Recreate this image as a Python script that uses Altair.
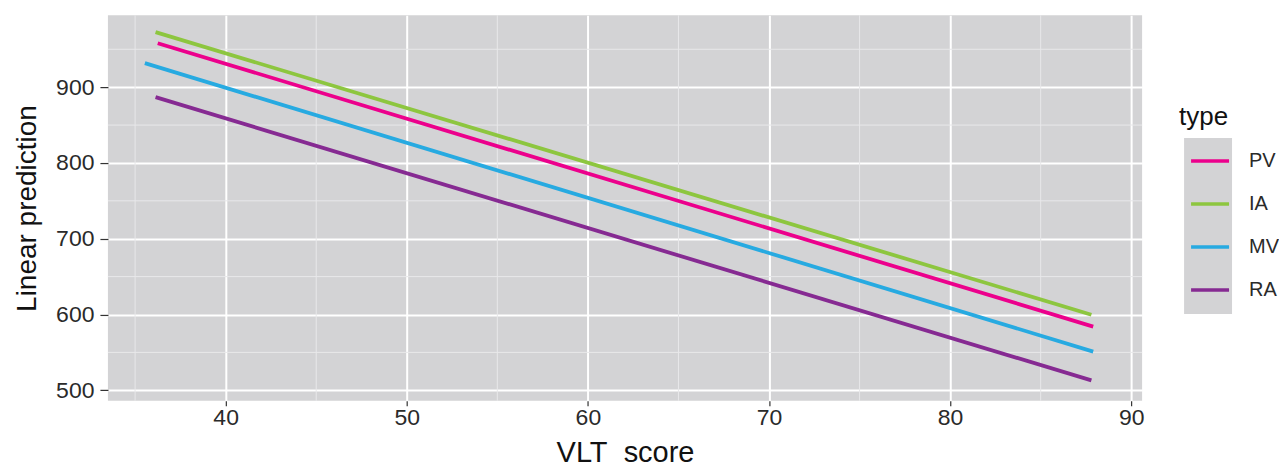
import altair as alt
import pandas as pd

types = ["PV", "IA", "MV", "RA"]
colors = ["#EC008C", "#8DC63F", "#27AAE1", "#862A92"]
x_start = [36.25, 36.13, 35.54, 36.13]
x_end = [87.9, 87.8, 87.9, 87.8]
y_start = [958, 972.6, 931.7, 886.8]
y_end = [584, 599.6, 551, 513]

x_major = [40, 50, 60, 70, 80, 90]
x_minor = [35, 45, 55, 65, 75, 85]
y_major = [500, 600, 700, 800, 900]
y_minor = [550, 650, 750, 850, 950]

rows = []
for t, xs_, xe, ys_, ye in zip(types, x_start, x_end, y_start, y_end):
    rows.append({"type": t, "vlt": xs_, "pred": ys_})
    rows.append({"type": t, "vlt": xe, "pred": ye})
df = pd.DataFrame(rows)

xdom = [33.5, 90.6]
ydom = [486, 995]
xs = alt.Scale(domain=xdom, nice=False, zero=False)
ys = alt.Scale(domain=ydom, nice=False, zero=False)

font = "Liberation Sans"
panel = "#D3D3D5"

xminor = alt.Chart(pd.DataFrame({"v": x_minor})).mark_rule(color="#E8E8EA", strokeWidth=1).encode(
    x=alt.X("v:Q", scale=xs))
yminor = alt.Chart(pd.DataFrame({"v": y_minor})).mark_rule(color="#E8E8EA", strokeWidth=1).encode(
    y=alt.Y("v:Q", scale=ys))

# grey background of the legend keys (ggplot style)
keybox = alt.Chart(pd.DataFrame({"k": [0]})).mark_rect(color=panel).encode(
    x=alt.value(1077), x2=alt.value(1125), y=alt.value(123), y2=alt.value(299))

lines = alt.Chart(df).mark_line(strokeWidth=3.8).encode(
    x=alt.X("vlt:Q", scale=xs, title="VLT\u00a0\u00a0score",
            axis=alt.Axis(values=x_major, grid=True, gridColor="white", gridWidth=2,
                          domain=False, tickColor="#333333", tickSize=5, tickWidth=1.2,
                          labelFontSize=23, labelColor="#2a2a2a", labelPadding=1,
                          titleFontSize=29, titleColor="#111111", titleFontWeight="normal",
                          titlePadding=9)),
    y=alt.Y("pred:Q", scale=ys, title="Linear prediction",
            axis=alt.Axis(values=y_major, grid=True, gridColor="white", gridWidth=2,
                          domain=False, tickColor="#333333", tickSize=8, tickWidth=1.2,
                          labelFontSize=23, labelColor="#2a2a2a", labelPadding=6,
                          titleFontSize=28, titleColor="#111111", titleFontWeight="normal",
                          titlePadding=14)),
    color=alt.Color("type:N", scale=alt.Scale(domain=types, range=colors), sort=types,
                    legend=alt.Legend(title="type", titleFontSize=26, titleFontWeight="normal",
                                      titleColor="#111111", labelFontSize=20, labelColor="#2a2a2a",
                                      symbolType="stroke", symbolSize=1444, symbolStrokeWidth=3.5,
                                      symbolOffset=10, rowPadding=12, labelOffset=18,
                                      titlePadding=10, orient="none", legendX=1072, legendY=89)),
    detail="type:N",
)

chart = alt.layer(xminor, yminor, keybox, lines).properties(
    width=1035, height=386, padding={"left": 5, "top": 6, "right": 0, "bottom": 0}
).configure(font=font).configure_view(fill=panel, stroke=None)

chart.save("out.html", embed_options={"renderer": "svg", "actions": False})
